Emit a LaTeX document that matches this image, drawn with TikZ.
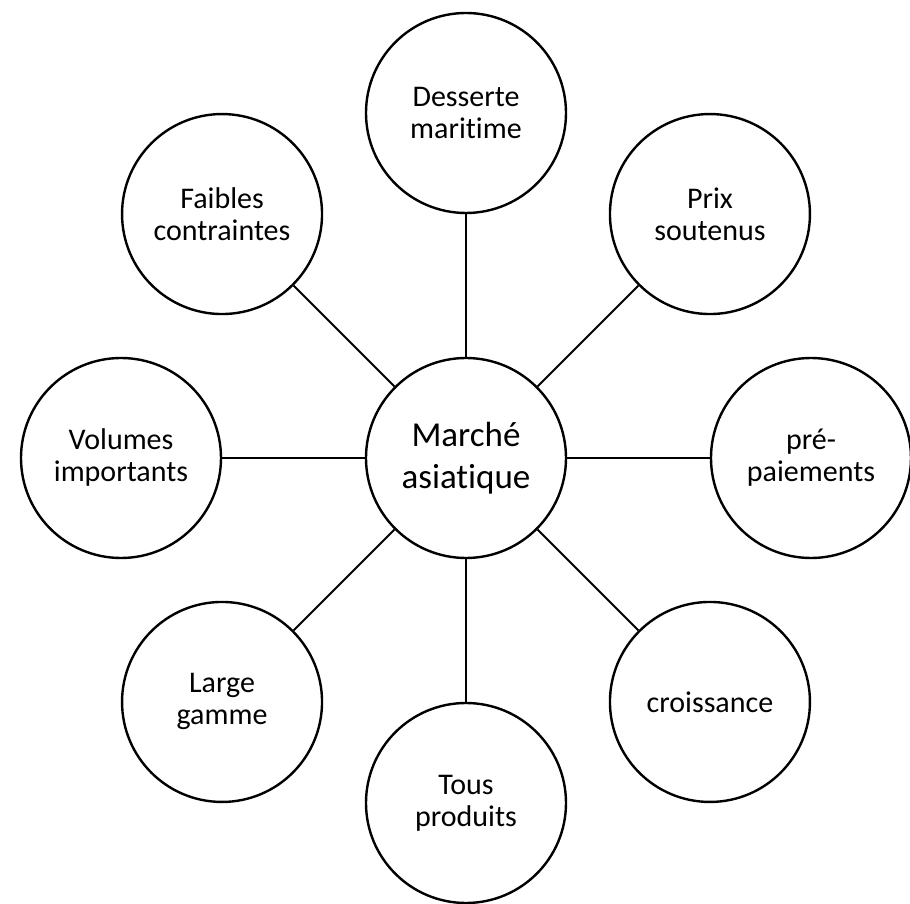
\documentclass[tikz,border=0pt]{standalone}
\usepackage{fontspec}
\setmainfont{Carlito}[Ligatures=NoCommon]

\tikzset{
  bubble/.style={circle, draw, line width=2.4pt, minimum size=200pt, inner sep=0pt,
    align=center, font=\fontsize{30}{32}\selectfont},
  hub/.style={bubble, font=\fontsize{35}{42}\selectfont},
  link/.style={line width=2pt}
}

\begin{document}
\begin{tikzpicture}[x=1pt, y=1pt]
\useasboundingbox (-466,-446) rectangle (444,458);

% Centre
\node[hub] (marche) at (0,0) {Marché\\asiatique};

% Outer circles
\foreach \a/\n/\t in {90/desserte/{Desserte\\maritime},
                      45/prix/{Prix\\soutenus},
                      0/prepaiements/{pré-\\paiements},
                      -45/croissance/{croissance},
                      -90/produits/{Tous\\produits},
                      -135/gamme/{Large\\gamme},
                      180/volumes/{Volumes\\importants},
                      135/contraintes/{Faibles\\contraintes}} {
  \node[bubble] (\n) at (\a:345) {\t};
  \draw[link] (marche) -- (\n);
}
\end{tikzpicture}
\end{document}
